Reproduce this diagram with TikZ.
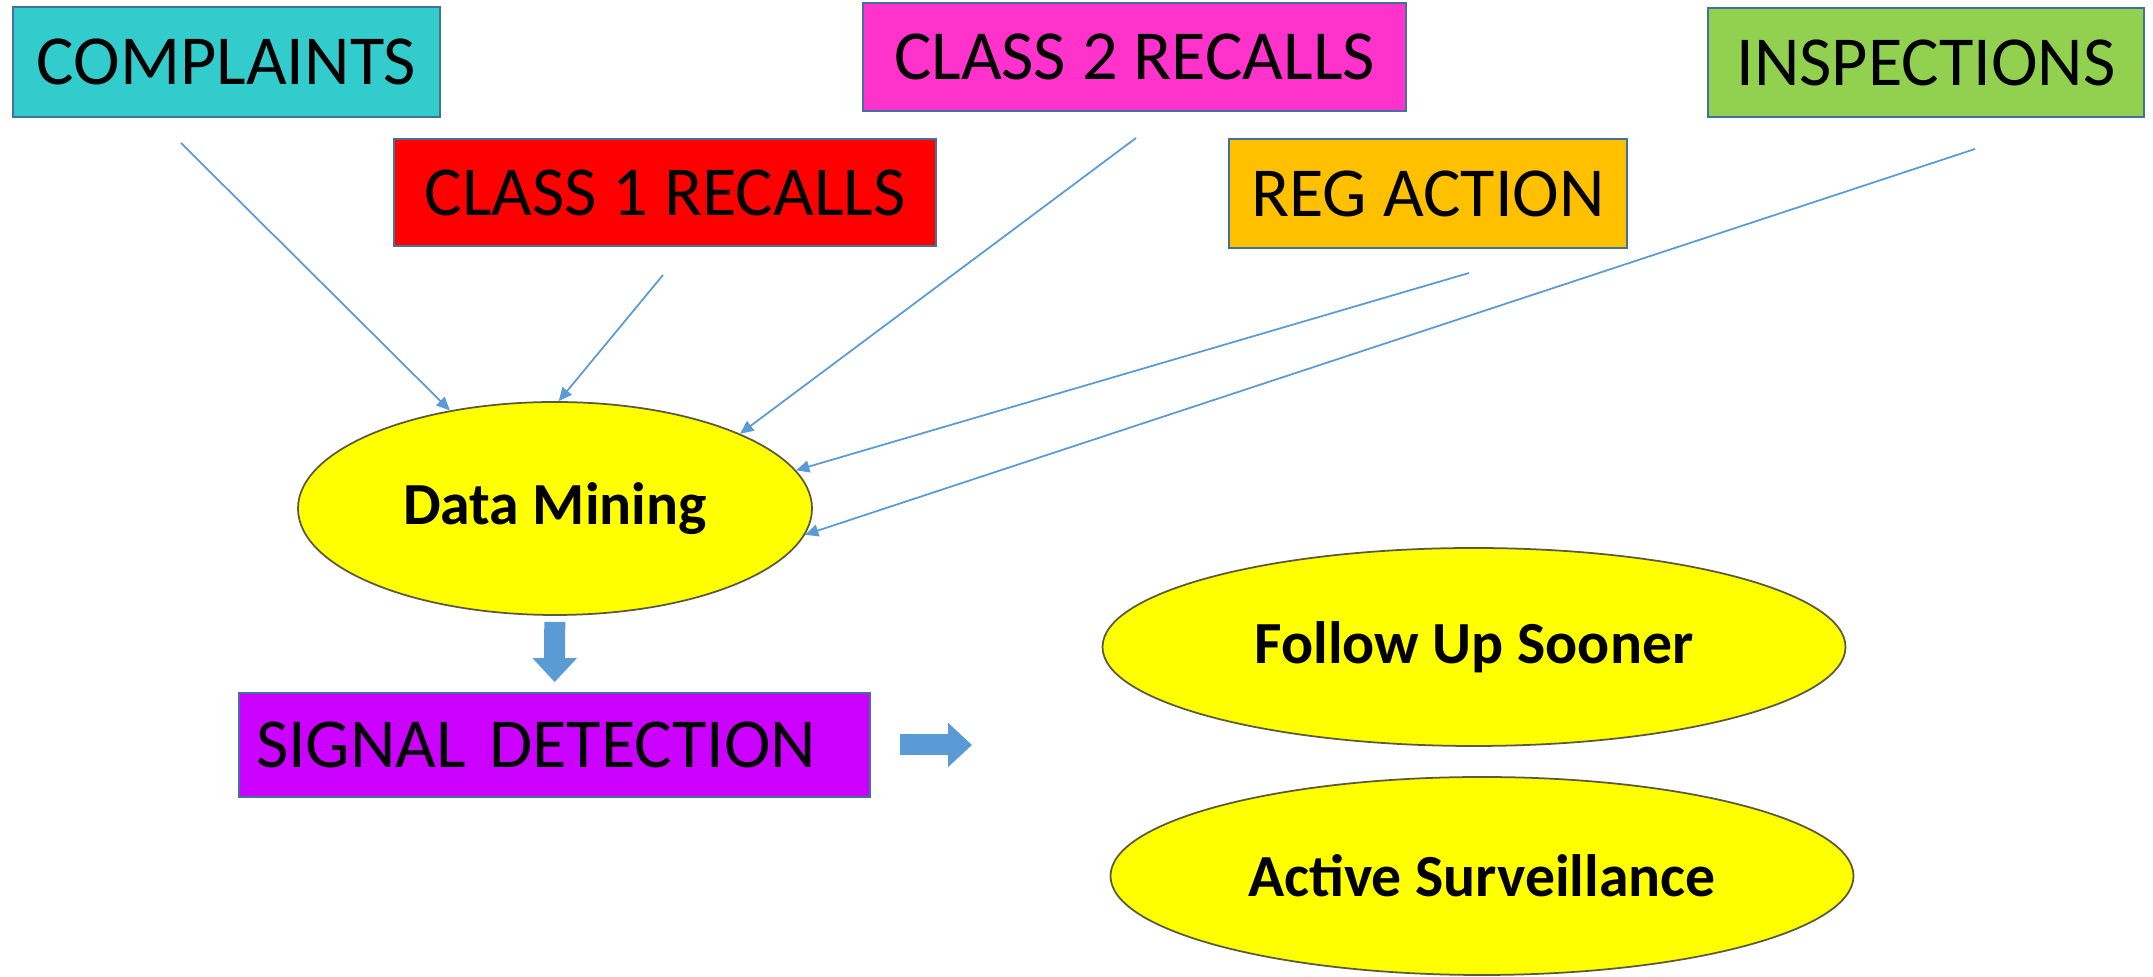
\documentclass[tikz,border=0pt]{standalone}
\usepackage{fontspec}
\setmainfont{Carlito}
\usepackage{tikz}
\usetikzlibrary{arrows.meta,shapes.geometric,calc}
\definecolor{pp_cyan}{RGB}{51, 204, 204}
\definecolor{pp_red}{RGB}{255, 0, 0}
\definecolor{pp_pink}{RGB}{255, 51, 204}
\definecolor{pp_orange}{RGB}{255, 192, 0}
\definecolor{pp_green}{RGB}{146, 208, 80}
\definecolor{pp_purple}{RGB}{204, 0, 255}
\definecolor{pp_yellow}{RGB}{255, 255, 0}
\definecolor{pp_blue}{RGB}{91, 155, 213}
\definecolor{pp_edge}{RGB}{65, 113, 156}
\definecolor{pp_dark}{RGB}{90, 90, 60}
\tikzstyle{bx}=[rectangle,draw=pp_edge,line width=0.5pt,inner sep=0pt,
  font=\fontsize{20}{24}\selectfont]
\tikzstyle{ov}=[ellipse,fill=pp_yellow,draw=pp_dark,line width=0.5pt,inner sep=0pt,
  font=\fontsize{17}{20}\selectfont\bfseries]
\tikzstyle{ln}=[draw=pp_blue,line width=0.5pt,-{Triangle[length=3.8pt,width=3.4pt]}]
\tikzstyle{ba}=[draw=pp_blue,line width=0.21cm,-{Triangle[length=0.24cm,width=0.43cm]}]
\tikzstyle{none}=[]

\begin{document}
\begin{tikzpicture}
            \useasboundingbox (0,0) rectangle (21.53,-9.77);
            \node [style=bx, fill=pp_cyan, minimum width=4.27cm, minimum height=1.10cm] (cmp) at (2.265,-0.62) {COMPLAINTS};
            \node [style=bx, fill=pp_red, minimum width=5.42cm, minimum height=1.07cm] (c1) at (6.65,-1.925) {CLASS 1 RECALLS};
            \node [style=bx, fill=pp_pink, minimum width=5.43cm, minimum height=1.08cm] (c2) at (11.345,-0.57) {CLASS 2 RECALLS};
            \node [style=bx, fill=pp_orange, minimum width=3.98cm, minimum height=1.09cm] (reg) at (14.28,-1.935) {REG ACTION};
            \node [style=bx, fill=pp_green, minimum width=4.36cm, minimum height=1.09cm] (ins) at (19.26,-0.625) {INSPECTIONS};
            \node [style=ov, minimum width=5.14cm, minimum height=2.13cm] (dm) at (5.55,-5.085) {Data Mining};
            \node [style=bx, fill=pp_purple, minimum height=1.04cm, text width=5.97cm,
              inner xsep=0.17cm, align=left] (sd) at (5.545,-7.45) {SIGNAL DETECTION};
            \node [style=ov, minimum width=7.43cm, minimum height=1.98cm] (fus) at (14.74,-6.47) {Follow Up Sooner};
            \node [style=ov, minimum width=7.43cm, minimum height=1.98cm] (as) at (14.82,-8.76) {Active Surveillance};
            \node [style=none] (1) at (1.81,-1.43) {};
            \node [style=none] (2) at (6.63,-2.75) {};
            \node [style=none] (3) at (11.36,-1.38) {};
            \node [style=none] (4) at (14.69,-2.73) {};
            \node [style=none] (5) at (19.75,-1.49) {};
            \node [style=none] (6) at (9.72,-7.45) {}; % between the two ovals
            \draw [style=ln] (1.center) to (dm.137.5);
            \draw [style=ln] (2.center) to (dm.88.4);
            \draw [style=ln] (3.center) to (dm.22.2);
            \draw [style=ln] (4.center) to (dm.9.4);
            \draw [style=ln] (5.center) to (dm.-6.4);
            \draw [style=ba, shorten <=0.06cm, shorten >=0.1cm] (dm) to (sd);
            \draw [style=ba, shorten <=0.29cm] (sd) to (6.center);
    \end{tikzpicture}
\end{document}
